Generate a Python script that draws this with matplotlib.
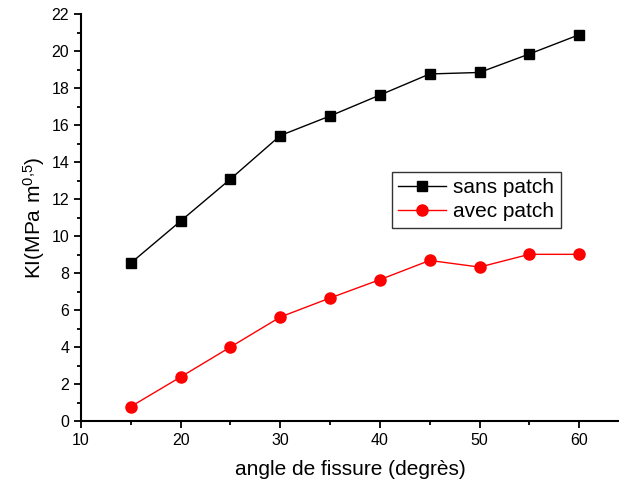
import matplotlib
matplotlib.use("Agg")
import matplotlib.pyplot as plt
from matplotlib.ticker import MultipleLocator

plt.rcParams['font.family'] = ['Liberation Sans', 'DejaVu Sans']
plt.rcParams['mathtext.fontset'] = 'custom'
plt.rcParams['mathtext.rm'] = 'Liberation Sans'

angles = [15, 20, 25, 30, 35, 40, 45, 50, 55, 60]
ki_sans_patch = [8.54, 10.81, 13.08, 15.43, 16.49, 17.62, 18.76, 18.84, 19.84, 20.88]
ki_avec_patch = [0.78, 2.38, 4.0, 5.62, 6.65, 7.64, 8.68, 8.32, 9.01, 9.01]

fig = plt.figure(figsize=(6.19, 4.90), dpi=100)
ax = fig.add_axes([0.1309, 0.1408, 0.8691, 0.8306])

ax.plot(angles, ki_sans_patch, color='black', lw=1, marker='s', ms=7,
        label='sans patch')
ax.plot(angles, ki_avec_patch, color='red', lw=1, marker='o', ms=8,
        label='avec patch')

ax.set_xlim(10, 64)
ax.set_ylim(0, 22)
ax.xaxis.set_major_locator(MultipleLocator(10))
ax.xaxis.set_minor_locator(MultipleLocator(5))
ax.yaxis.set_major_locator(MultipleLocator(2))
ax.yaxis.set_minor_locator(MultipleLocator(1))

for side in ('top', 'right'):
    ax.spines[side].set_visible(False)
for side in ('left', 'bottom'):
    ax.spines[side].set_linewidth(1.5)

ax.tick_params(which='major', direction='out', length=5, width=1.3,
               labelsize=11.5)
ax.tick_params(which='minor', direction='out', length=3, width=1.3)

ax.set_xlabel('angle de fissure (degrès)', fontsize=15, labelpad=9)
ax.set_ylabel(r'$\mathregular{KI(MPa\ m^{0{,}5})}$', fontsize=15, labelpad=3)

leg = ax.legend(loc='upper left', bbox_to_anchor=(0.578, 0.612),
                fontsize=15, frameon=True, fancybox=False, edgecolor='black',
                borderpad=0.3, labelspacing=0.25, handlelength=2.3,
                handletextpad=0.35, borderaxespad=0)
leg.get_frame().set_linewidth(1)

fig.savefig('out.png', dpi=100)
